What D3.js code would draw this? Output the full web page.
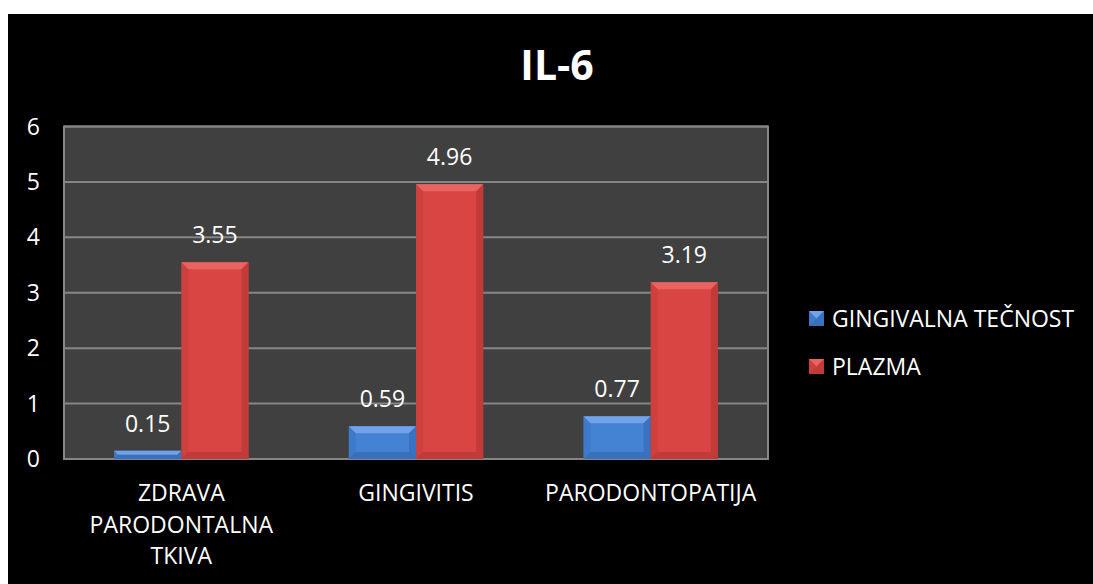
<!DOCTYPE html>
<html>
<head>
<meta charset="utf-8">
<script src="https://cdn.jsdelivr.net/npm/d3@7"></script>
<style>
  html, body { margin: 0; padding: 0; background: #ffffff; }
  svg { display: block; }
  text { font-family: "Open Sans", sans-serif; fill: #ffffff; }
</style>
</head>
<body>
<script>
const categories = [["ZDRAVA", "PARODONTALNA", "TKIVA"], ["GINGIVITIS"], ["PARODONTOPATIJA"]];
const seriesNames = ["GINGIVALNA TEČNOST", "PLAZMA"];
const gingivalna = [0.15, 0.59, 0.77];
const plazma = [3.55, 4.96, 3.19];
const yTicks = [0, 1, 2, 3, 4, 5, 6];
const title = "IL-6";

const W = 1093, H = 584;
const svg = d3.select("body").append("svg").attr("width", W).attr("height", H);
svg.append("rect").attr("x", 8).attr("y", 14).attr("width", W - 8).attr("height", H - 14).attr("fill", "#000");

const plot = { left: 64, right: 768, top: 126.5, bottom: 459 };
const x0 = d3.scaleBand().domain(d3.range(categories.length)).range([plot.left, plot.right]).paddingInner(0).paddingOuter(0);
const x1 = d3.scaleBand().domain([0, 1]).range([0, x0.bandwidth()]).paddingInner(0).paddingOuter(0.746);
const y = d3.scaleLinear().domain([0, 6]).range([plot.bottom, plot.top]);

svg.append("rect").attr("x", plot.left).attr("y", plot.top).attr("width", plot.right - plot.left).attr("height", plot.bottom - plot.top)
  .attr("fill", "#404040");
svg.append("g").selectAll("line").data(yTicks).join("line")
  .attr("x1", plot.left).attr("x2", plot.right)
  .attr("y1", d => y(d)).attr("y2", d => y(d))
  .attr("stroke", "#868686").attr("stroke-width", 2);
svg.append("rect").attr("x", plot.left).attr("y", plot.top).attr("width", plot.right - plot.left).attr("height", plot.bottom - plot.top)
  .attr("fill", "none").attr("stroke", "#868686").attr("stroke-width", 2);

svg.append("g").selectAll("text").data(yTicks).join("text")
  .attr("x", 40).attr("y", d => y(d) + 8)
  .attr("text-anchor", "end").attr("font-size", 23).text(d => d);

const palettes = [
  { main: "#4482d4", top: "#72a3ea", side: "#3468b4", bottom: "#2d5ea4" },
  { main: "#d84543", top: "#e96461", side: "#b63633", bottom: "#a8302d" }
];
const seriesData = [gingivalna, plazma];

function drawBar(g, xa, xb, ya, yb, p) {
  const w = xb - xa, h = yb - ya;
  const b = Math.min(7, w / 2, h / 2);
  g.append("rect").attr("x", xa).attr("y", ya).attr("width", w).attr("height", h).attr("fill", p.main);
  g.append("path").attr("d", `M${xa},${ya}L${xb},${ya}L${xb - b},${ya + b}L${xa + b},${ya + b}Z`).attr("fill", p.top);
  g.append("path").attr("d", `M${xa},${ya}L${xa + b},${ya + b}L${xa + b},${yb - b}L${xa},${yb}Z`).attr("fill", p.side).attr("opacity", 0.3);
  g.append("path").attr("d", `M${xb},${ya}L${xb - b},${ya + b}L${xb - b},${yb - b}L${xb},${yb}Z`).attr("fill", p.side).attr("opacity", 0.6);
  g.append("path").attr("d", `M${xa},${yb}L${xa + b},${yb - b}L${xb - b},${yb - b}L${xb},${yb}Z`).attr("fill", p.bottom).attr("opacity", 0.5);
}

const barsG = svg.append("g");
seriesData.forEach((vals, s) => {
  vals.forEach((v, i) => {
    const xa = x0(i) + x1(s);
    const xb = xa + x1.bandwidth();
    drawBar(barsG, xa, xb, y(v), y(0), palettes[s]);
    svg.append("text").attr("x", (xa + xb) / 2).attr("y", y(v) - 19)
      .attr("text-anchor", "middle").attr("font-size", 23).text(v.toFixed(2));
  });
});

categories.forEach((lines, i) => {
  const cx = x0(i) + x0.bandwidth() / 2;
  lines.forEach((ln, j) => {
    svg.append("text").attr("x", cx).attr("y", 501 + j * 31.5)
      .attr("text-anchor", "middle").attr("font-size", 23).text(ln);
  });
});

svg.append("text").attr("x", 557).attr("y", 80).attr("text-anchor", "middle")
  .attr("font-size", 41).attr("font-weight", "bold").text(title);

seriesNames.forEach((name, s) => {
  const ly = 311 + s * 48;
  const lg = svg.append("g");
  drawBar(lg, 809, 824, ly, ly + 15, palettes[s]);
  svg.append("text").attr("x", 832).attr("y", ly + 16).attr("font-size", 23).text(name);
});
</script>
</body>
</html>
